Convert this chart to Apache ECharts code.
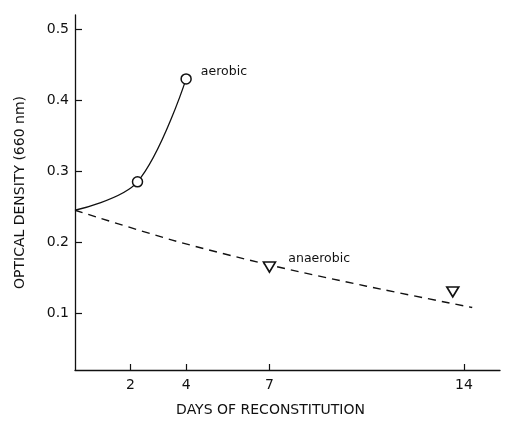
<!DOCTYPE html>
<html>
<head>
<meta charset="utf-8">
<script src="https://cdn.jsdelivr.net/npm/echarts@6.0.0/dist/echarts.min.js"></script>
<style>
  html, body { margin: 0; padding: 0; background: #fff; }
  #chart { width: 508px; height: 422px; }
</style>
</head>
<body>
<div id="chart"></div>
<script>
const aerobicDays = [0, 2.25, 4];
const aerobicOD = [0.245, 0.285, 0.43];
const anaerobicDays = [7, 13.6];
const anaerobicOD = [0.165, 0.13];
const fitDays = [0, 3.5, 7, 10.5, 14.3];
const fitOD = [0.245, 0.203, 0.168, 0.138, 0.108];
const xTicks = [2, 4, 7, 14];
const yTicks = [0.1, 0.2, 0.3, 0.4, 0.5];

const ink = '#111';
const font = 'DejaVu Sans';

const zip = (xs, ys) => xs.map((x, i) => [x, ys[i]]);

const aerobicData = zip(aerobicDays, aerobicOD).map((p, i) => {
  const item = { value: p };
  if (i === 0) item.symbol = 'none';
  if (i === aerobicDays.length - 1) {
    item.label = {
      show: true, formatter: 'aerobic', position: 'right', distance: 9,
      offset: [0, -7], color: ink, fontFamily: font, fontSize: 12.5
    };
  }
  return item;
});

const anaerobicData = zip(anaerobicDays, anaerobicOD).map((p, i) => {
  const item = { value: p };
  if (i === 0) {
    item.label = {
      show: true, formatter: 'anaerobic', position: 'right', distance: 12,
      offset: [0, -8], color: ink, fontFamily: font, fontSize: 12.5
    };
  }
  return item;
});

const chart = echarts.init(document.getElementById('chart'), null, { renderer: 'canvas' });

chart.setOption({
  backgroundColor: '#fff',
  animation: false,
  grid: { left: 75, right: 8, top: 15, bottom: 52, containLabel: false, outerBoundsMode: 'none' },
  xAxis: {
    type: 'value',
    min: 0,
    max: 15.3,
    name: 'DAYS OF RECONSTITUTION',
    nameLocation: 'middle',
    nameGap: 33,
    nameTextStyle: { color: ink, fontFamily: font, fontSize: 14, padding: [0, 34, 0, 0] },
    axisLine: { lineStyle: { color: ink, width: 1.3 } },
    axisTick: { inside: true, length: 6, customValues: xTicks, lineStyle: { color: ink, width: 1.2 } },
    axisLabel: { customValues: xTicks, color: ink, fontFamily: font, fontSize: 14, margin: 8 },
    splitLine: { show: false }
  },
  yAxis: {
    type: 'value',
    min: 0.02,
    max: 0.52,
    name: 'OPTICAL DENSITY (660 nm)',
    nameLocation: 'middle',
    nameGap: 48,
    nameTextStyle: { color: ink, fontFamily: font, fontSize: 14 },
    axisLine: { show: true, lineStyle: { color: ink, width: 1.3 } },
    axisTick: { show: true, inside: true, length: 7, customValues: yTicks, lineStyle: { color: ink, width: 1.2 } },
    axisLabel: {
      customValues: yTicks, color: ink, fontFamily: font, fontSize: 14, margin: 6,
      formatter: v => v.toFixed(1)
    },
    splitLine: { show: false }
  },
  series: [
    {
      name: 'anaerobic fit',
      type: 'line',
      data: zip(fitDays, fitOD),
      smooth: 0.3,
      symbol: 'none',
      lineStyle: { color: ink, width: 1.4, type: [8, 6] },
      z: 2
    },
    {
      name: 'aerobic',
      type: 'line',
      data: aerobicData,
      smooth: 0.35,
      symbol: 'circle',
      symbolSize: 10,
      showAllSymbol: true,
      lineStyle: { color: ink, width: 1.3 },
      itemStyle: { color: '#fff', borderColor: ink, borderWidth: 1.5 },
      z: 3
    },
    {
      name: 'anaerobic',
      type: 'scatter',
      data: anaerobicData,
      symbol: 'triangle',
      symbolRotate: 180,
      symbolSize: [12, 10],
      itemStyle: { color: '#fff', borderColor: ink, borderWidth: 1.6, opacity: 1 },
      z: 4
    }
  ]
});
</script>
</body>
</html>
